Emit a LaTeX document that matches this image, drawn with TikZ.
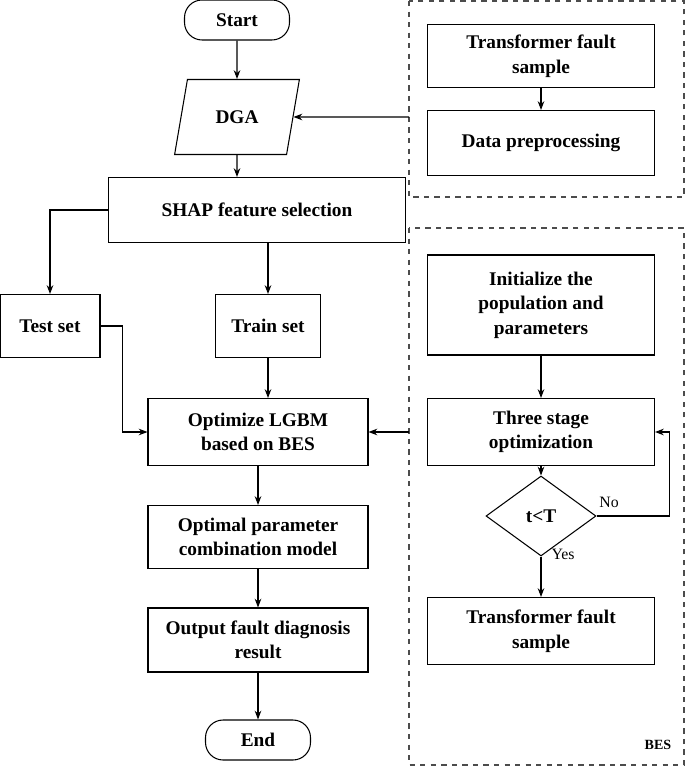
\documentclass[tikz,border=0pt]{standalone}
\usepackage{fontspec}
\setmainfont{Liberation Serif}
\usetikzlibrary{shapes.geometric, arrows.meta}

\tikzset{
    box/.style={draw, semithick, align=center, font=\bfseries\fontsize{11}{14}\selectfont, inner sep=1pt},
    term/.style={box, rounded corners=10pt, minimum width=2.1cm, minimum height=0.8cm},
    line/.style={draw, semithick, -{Stealth[length=5pt]}},
    group/.style={draw, semithick, dashed, gray!60!black}
}

\begin{document}
\begin{tikzpicture}[x=0.02cm, y=-0.02cm]
            \useasboundingbox (0, 0) rectangle (685, 766);

            \draw[group] (409, 1) rectangle (684, 197);
            \draw[group] (409, 228) rectangle (684, 765);

            \node[term] at (237, 20)      (start)  {Start};
            \node[box, trapezium, trapezium left angle=70, trapezium right angle=110,
                  trapezium stretches=true, minimum width=2.5cm, minimum height=1.5cm] at (237, 117)   (dga)  {DGA};
            \node[box, minimum width=5.94cm, minimum height=1.3cm] at (257, 210)  (shap)  {SHAP feature selection};
            \node[box, minimum width=2cm, minimum height=1.26cm] at (50, 326)   (test)  {Test set};
            \node[box, minimum width=2.1cm, minimum height=1.26cm] at (268, 326)  (train)  {Train set};
            \node[box, minimum width=4.4cm, minimum height=1.34cm] at (258, 432)  (opt)  {Optimize LGBM\\based on BES};
            \node[box, minimum width=4.4cm, minimum height=1.26cm] at (258, 537)  (model)  {Optimal parameter\\combination model};
            \node[box, minimum width=4.4cm, minimum height=1.28cm] at (258, 640)  (out)  {Output fault diagnosis\\result};
            \node[term] at (258, 740)      (end)  {End};

            \node[box, minimum width=4.54cm, minimum height=1.26cm] at (541, 56)   (sample)  {Transformer fault\\sample};
            \node[box, minimum width=4.54cm, minimum height=1.3cm] at (541, 143)  (prep)  {Data preprocessing};
            \node[box, minimum width=4.54cm, minimum height=2cm] at (541, 305)  (init)  {Initialize the\\population and\\parameters};
            \node[box, minimum width=4.54cm, minimum height=1.34cm] at (541, 432)  (stage)  {Three stage\\optimization};
            \node[box, diamond, aspect=1.35, minimum width=2.2cm, minimum height=1.6cm, inner sep=0pt] at (541, 516)  (cond)  {t<T};
            \node[box, minimum width=4.54cm, minimum height=1.34cm] at (541, 631)  (result)  {Transformer fault\\sample};

            \node[font=\bfseries\footnotesize] at (658, 745)  (bes)  {BES};
            \node[font=\small] at (609, 502)  (no)  {No};
            \node[font=\small] at (563, 554)  (yes)  {Yes};
            \coordinate (in1) at (409, 117);
            \coordinate (in2) at (409, 432);

            \draw[line] (start) -- (dga);
            \draw[line] (dga) -- (dga |- shap.north);
            \draw[line] (in1) -- (dga.east);
            \draw[line] (shap.west) -| (test);
            \draw[line] (train |- shap.south) -- (train);
            \draw[line] (test.east) -- ++(22, 0) |- (opt.west);
            \draw[line] (train) -- (train |- opt.north);
            \draw[line] (in2) -- (opt);
            \draw[line] (opt) -- (model);
            \draw[line] (model) -- (out);
            \draw[line] (out) -- (end);

            \draw[line] (sample) -- (prep);
            \draw[line] (init) -- (stage);
            \draw[line] (stage) -- (cond);
            \draw[line] (cond.east) -- ++(73, 0) |- (stage.east);
            \draw[line] (cond) -- (result);
        \end{tikzpicture}
\end{document}
